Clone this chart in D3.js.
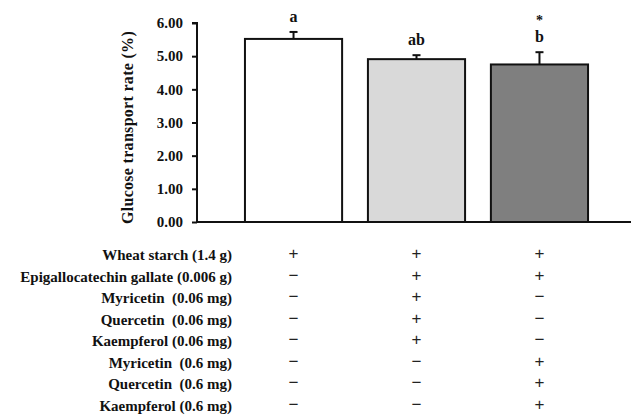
<!DOCTYPE html>
<html>
<head>
<meta charset="utf-8">
<script src="https://cdn.jsdelivr.net/npm/d3@7"></script>
<style>
  body { margin: 0; background: #fff; }
  svg text { font-family: "Liberation Serif", "Times New Roman", serif; font-weight: bold; }
</style>
</head>
<body>
<div id="chart"></div>
<script>
// values
var groups = ["G1", "G2", "G3"];
var means = [5.52, 4.91, 4.75];
var errors = [0.21, 0.12, 0.37];
var letters = ["a", "ab", "b"];
var stars = ["", "", "*"];
var fills = ["#ffffff", "#d9d9d9", "#7f7f7f"];
var yTicks = [0, 1, 2, 3, 4, 5, 6];

var rowLabels = [
    "Wheat starch (1.4 g)",
    "Epigallocatechin gallate (0.006 g)",
    "Myricetin  (0.06 mg)",
    "Quercetin  (0.06 mg)",
    "Kaempferol (0.06 mg)",
    "Myricetin  (0.6 mg)",
    "Quercetin  (0.6 mg)",
    "Kaempferol (0.6 mg)"
];
// one string per row, one char per group
var signs = [
    "+++",
    "-++",
    "-+-",
    "-+-",
    "-+-",
    "--+",
    "--+",
    "--+"
];

var W = 631, H = 419;
var svg = d3.select("#chart").append("svg").attr("width", W).attr("height", H);

var x = d3.scaleBand().domain(groups).range([197, 636]).paddingInner(0.21).paddingOuter(0.39);
var y = d3.scaleLinear().domain([0, 6]).range([222, 23]);

// bars
svg.selectAll("rect.bar").data(means).enter().append("rect")
    .attr("class", "bar")
    .attr("x", function(d, i) { return x(groups[i]); })
    .attr("y", function(d) { return y(d); })
    .attr("width", x.bandwidth())
    .attr("height", function(d) { return y(0) - y(d); })
    .attr("fill", function(d, i) { return fills[i]; })
    .attr("stroke", "#111")
    .attr("stroke-width", 2);

// error bars (upper only)
var eb = svg.append("g").attr("stroke", "#111").attr("stroke-width", 2);
means.forEach(function(m, i) {
    var cx = x(groups[i]) + x.bandwidth() / 2;
    eb.append("line").attr("x1", cx).attr("x2", cx).attr("y1", y(m)).attr("y2", y(m + errors[i]));
    eb.append("line").attr("x1", cx - 4).attr("x2", cx + 4).attr("y1", y(m + errors[i])).attr("y2", y(m + errors[i]));
    svg.append("text").attr("x", cx).attr("y", y(m + errors[i]) - 10)
        .attr("text-anchor", "middle").attr("font-size", 16).attr("fill", "#111")
        .text(letters[i]);
    if (stars[i]) {
        svg.append("text").attr("x", cx).attr("y", y(m + errors[i]) - 27)
            .attr("text-anchor", "middle").attr("font-size", 14).attr("fill", "#111")
            .text(stars[i]);
    }
});

// axes
var yAxis = svg.append("g").attr("transform", "translate(197,0)")
    .call(d3.axisLeft(y).tickValues(yTicks).tickSize(5).tickPadding(9).tickFormat(d3.format(".2f")));
yAxis.selectAll("path, line").attr("stroke", "#111").attr("stroke-width", 2);
yAxis.select(".domain").attr("d", "M-5," + y(6) + "H0V" + y(0));
yAxis.selectAll("text").attr("font-size", 15).attr("fill", "#111")
    .style("font-family", "Liberation Serif, serif").style("font-weight", "bold");

svg.append("line").attr("x1", 196).attr("x2", 636).attr("y1", y(0)).attr("y2", y(0))
    .attr("stroke", "#111").attr("stroke-width", 2);

svg.append("text")
    .attr("transform", "translate(133," + ((y(0) + y(6)) / 2 + 5) + ") rotate(-90)")
    .attr("text-anchor", "middle").attr("font-size", 16).attr("fill", "#111")
    .attr("letter-spacing", "0.3px")
    .text("Glucose transport rate (%)");

// treatment table
var rowY = d3.scalePoint().domain(d3.range(rowLabels.length)).range([260, 411]);
rowLabels.forEach(function(lab, r) {
    svg.append("text").attr("x", 232).attr("y", rowY(r))
        .attr("text-anchor", "end").attr("font-size", 15).attr("fill", "#111")
        .style("white-space", "pre")
        .text(lab);
    signs[r].split("").forEach(function(s, i) {
        svg.append("text").attr("x", x(groups[i]) + x.bandwidth() / 2).attr("y", rowY(r) - 1)
            .attr("text-anchor", "middle").attr("font-size", 17).attr("fill", "#222")
            .style("font-family", "Liberation Sans, Arial, sans-serif").style("font-weight", "normal")
            .text(s === "+" ? "+" : "\u2212");
    });
});
</script>
</body>
</html>
